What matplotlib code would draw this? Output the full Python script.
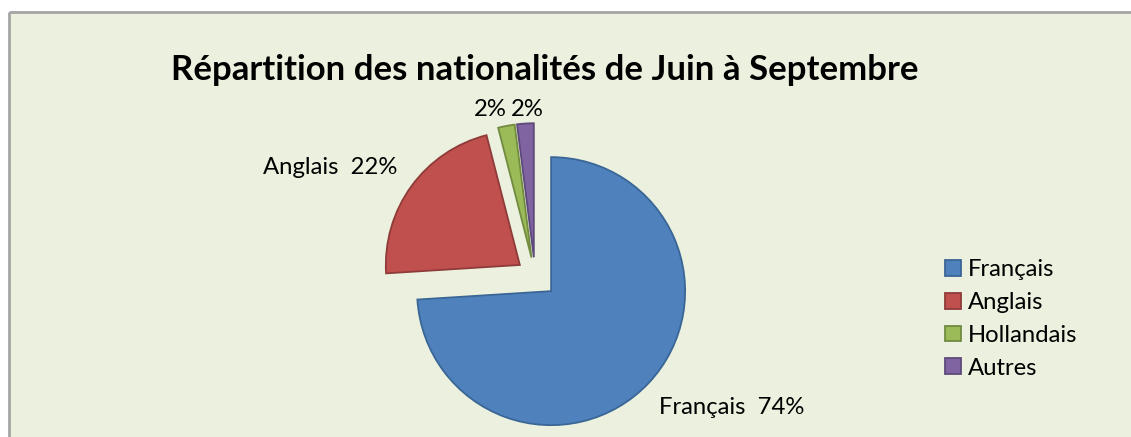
import matplotlib.pyplot as plt
from matplotlib.patches import Rectangle

# data
categories = ['Français', 'Anglais', 'Hollandais', 'Autres']
shares = [74, 22, 2, 2]
label_texts = ['Français  74%', 'Anglais  22%', '2%', '2%']

colors = ['#4F81BD', '#C0504D', '#9BBB59', '#8064A2']
edge_colors = ['#3A6696', '#8E3B39', '#718B40', '#5E4A7A']

W, H = 1131, 437
FONT = 'Lato'


def py(y):
    # pixel row (top down) -> data y (bottom up)
    return H - y


fig = plt.figure(figsize=(W / 100, H / 100), dpi=100)
fig.set_facecolor('white')
ax = fig.add_axes((0, 0, 1, 1))

# chart area background, grey border only on top and left
ax.add_patch(Rectangle((9, -50), W + 100, py(12) + 50, facecolor='#EBF1DE',
                       edgecolor='none', zorder=0, clip_on=False))
ax.plot([9, W + 50], [py(12), py(12)], color='#A5A5A5', lw=2, zorder=1,
        solid_capstyle='butt', clip_on=False)
ax.plot([9, 9], [py(12), -50], color='#A5A5A5', lw=2, zorder=1,
        solid_capstyle='butt', clip_on=False)

radius = 134
# pie() offsets wedges by explode in data units, so scale by the radius
explode = [f * radius for f in (0.165, 0.14, 0.14, 0.14)]
wedges, _ = ax.pie(shares, colors=colors, startangle=90, counterclock=False,
                   radius=radius, center=(535, py(276)), explode=explode,
                   wedgeprops=dict(linewidth=1.3), frame=True)
for w, ec in zip(wedges, edge_colors):
    w.set_edgecolor(ec)
    w.set_zorder(2)

ax.set_xlim(0, W)
ax.set_ylim(0, H)
ax.axis('off')

# data labels
label_pos = [(732, 408), (330, 167), (490, 110), (527, 110)]
for txt, (x, y) in zip(label_texts, label_pos):
    ax.text(x, py(y), txt, ha='center', va='center', fontsize=17.2,
            fontfamily=FONT, color='black', zorder=3)

ax.text(545, py(70), 'Répartition des nationalités de Juin à Septembre',
        ha='center', va='center', fontsize=25, fontweight='bold',
        fontfamily=FONT, color='black', zorder=3)

leg = ax.legend(wedges, categories, loc='upper left',
                bbox_to_anchor=(945 / W, 1 - 259 / H), frameon=False,
                prop={'family': FONT, 'size': 17.2}, handlelength=0.65,
                handleheight=0.65, handletextpad=0.3, labelspacing=0.5,
                borderpad=0, borderaxespad=0)

plt.savefig('out.png', dpi=100)
